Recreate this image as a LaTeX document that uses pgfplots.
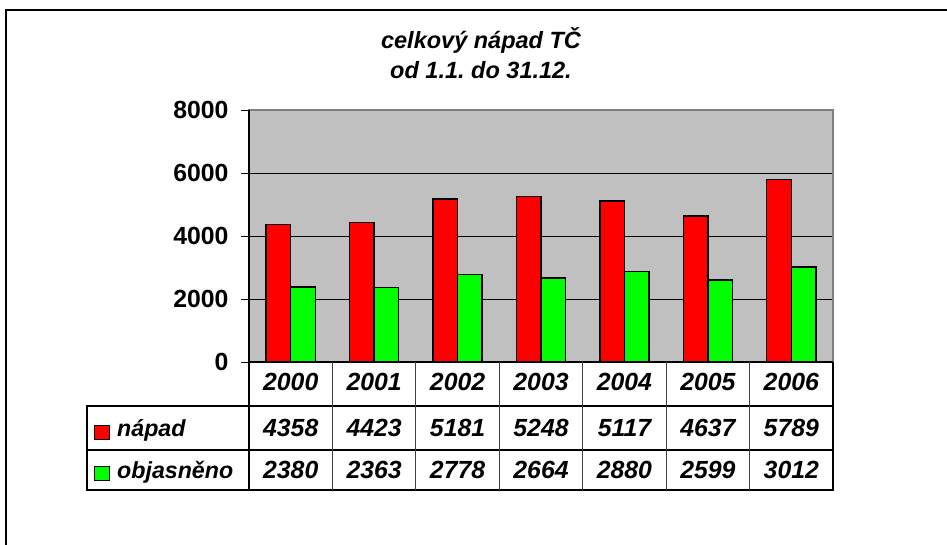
\documentclass[border=0pt]{standalone}
\usepackage{pgfplots}
\usepackage{pgfplotstable}
\pgfplotsset{compat=1.18}
\usepackage{fontspec}
\setmainfont{Liberation Sans}
\frenchspacing
\definecolor{silver}{HTML}{C0C0C0}
\definecolor{xred}{HTML}{FF0000}
\definecolor{xgreen}{HTML}{00FF00}
\definecolor{xgray}{HTML}{808080}

\pgfplotstableread{
x year napad objasneno
0 2000 4358 2380
1 2001 4423 2363
2 2002 5181 2778
3 2003 5248 2664
4 2004 5117 2880
5 2005 4637 2599
6 2006 5789 3012
}\data

\newcommand{\tf}{\fontsize{24.8}{28}\selectfont\bfseries\itshape}
\newcommand{\lf}{\fontsize{23.2}{28}\selectfont\bfseries\itshape}

\begin{document}
\begin{tikzpicture}[x=1pt,y=1pt]
\useasboundingbox (0,0) rectangle (947,-545);
\draw[line width=1.5pt] (6,-545) -- (6,-10) -- (947,-10);
\node[align=center, font=\fontsize{23.5}{30}\selectfont\bfseries\itshape] at (481,-53) {celkový nápad TČ\\od 1.1. do 31.12.};

\begin{axis}[
  at={(249pt,-362pt)}, anchor=south west,
  scale only axis, width=584pt, height=252pt,
  xmin=-0.5, xmax=6.5, ymin=0, ymax=8000,
  xtick=\empty,
  ytick={0,2000,4000,6000,8000},
  ytick pos=left,
  scaled y ticks=false,
  /pgf/number format/1000 sep={},
  /pgf/number format/assume math mode=true,
  yticklabel style={font=\fontsize{24.8}{28}\selectfont\bfseries, xshift=-9pt},
  axis background/.style={fill=silver},
  ymajorgrids, grid style={black, line width=1pt},
  axis line style={draw=xgray, line width=1.2pt},
  tick align=outside, major tick length=8pt,
  ytick style={black, line width=1pt},
  clip=false,
]
\addplot[ybar, bar width=0.294, bar shift=-0.147, fill=xred, draw=black, line width=1.4pt] table[x=x, y=napad] {\data};
\addplot[ybar, bar width=0.294, bar shift=0.147, fill=xgreen, draw=black, line width=1.4pt] table[x=x, y=objasneno] {\data};
\draw[black, line width=1.2pt] (rel axis cs:0,0) -- (rel axis cs:0,1);
\draw[black, line width=1.2pt] (rel axis cs:0,0) -- (rel axis cs:1,0);
\end{axis}

% data table
\draw[line width=1.2pt] (249,-362) -- (249,-490);
\draw[line width=1.2pt] (833,-362) -- (833,-490);
\draw[line width=1.2pt] (87,-406) rectangle (833,-490);
\draw[line width=1.2pt] (87,-450) -- (833,-450);
\draw[line width=1.2pt] (249,-406) -- (833,-406);
\foreach \i in {1,...,6} {
  \draw[line width=1.2pt, xgray!50!black] ({249+\i*83.43},-362) -- ({249+\i*83.43},-490);
}
\foreach \i in {0,...,6} {
  \pgfplotstablegetelem{\i}{year}\of\data \let\yr\pgfplotsretval
  \pgfplotstablegetelem{\i}{napad}\of\data \let\na\pgfplotsretval
  \pgfplotstablegetelem{\i}{objasneno}\of\data \let\ob\pgfplotsretval
  \node[anchor=base, inner sep=0pt, font=\tf] at ({249+(\i+0.5)*83.43},-390.6) {\yr};
  \node[anchor=base, inner sep=0pt, font=\tf] at ({249+(\i+0.5)*83.43},-436.6) {\na};
  \node[anchor=base, inner sep=0pt, font=\tf] at ({249+(\i+0.5)*83.43},-478.6) {\ob};
}
\draw[fill=xred, draw=black, line width=1pt] (94,-425) rectangle (109,-439);
\draw[fill=xgreen, draw=black, line width=1pt] (94,-466) rectangle (109,-480);
\node[anchor=base west, inner sep=0pt, font=\lf] at (117,-436.6) {nápad};
\node[anchor=base west, inner sep=0pt, font=\lf] at (117,-478.6) {objasněno};
\end{tikzpicture}
\end{document}
